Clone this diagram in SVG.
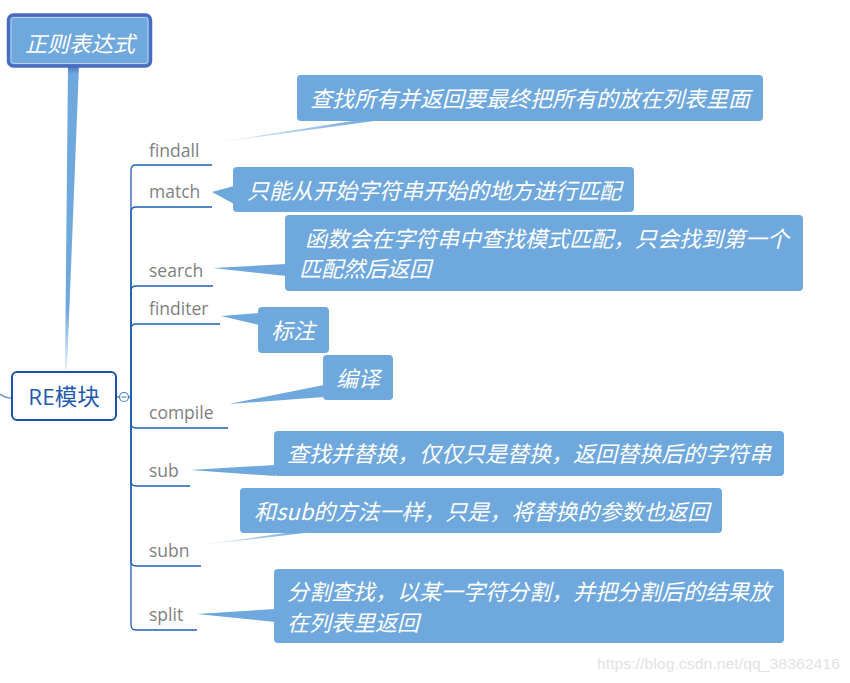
<svg xmlns="http://www.w3.org/2000/svg" width="850" height="683" viewBox="0 0 850 683">
<defs>
<style>
.co{font-family:"Noto Sans CJK SC","Noto Sans",sans-serif;font-size:22px;font-style:italic;fill:#ffffff}
.cb{fill:#6fa8dc}
.lb{font-family:"Open Sans","Liberation Sans",sans-serif;font-size:17.5px;fill:#7f7f7f}
.br{fill:none;stroke:#1f5fb5;stroke-width:1.3}
</style>
<linearGradient id="fade" x1="1" y1="0" x2="0" y2="0">
<stop offset="0" stop-color="#6fa8dc"/>
<stop offset="1" stop-color="#6fa8dc" stop-opacity="0.15"/>
</linearGradient>
<linearGradient id="stem" x1="0" y1="0" x2="0" y2="1">
<stop offset="0" stop-color="#4a6cc0"/>
<stop offset="0.03" stop-color="#6fa8dc"/>
<stop offset="0.8" stop-color="#6fa8dc"/>
<stop offset="1" stop-color="#6fa8dc" stop-opacity="0.2"/>
</linearGradient>
</defs>
<rect width="850" height="683" fill="#ffffff"/>

<g id="connectors">
<polygon points="68,65 79,65 67,369 65,369" fill="url(#stem)"/>
<path d="M0,394 Q6,398 12,398" fill="none" stroke="#6a8fc8" stroke-width="1.5"/>
<line x1="116" y1="397" x2="119.5" y2="397" stroke="#4a7cc0" stroke-width="1.3"/>
<line x1="128.5" y1="397" x2="131" y2="397" stroke="#4a7cc0" stroke-width="1.3"/>
<path class="br" d="M131,397 V170 Q131,165 136,165 H212"/>
<path class="br" d="M131,397 V212 Q131,207 136,207 H212"/>
<path class="br" d="M131,397 V291 Q131,286 136,286 H213"/>
<path class="br" d="M131,397 V329 Q131,324 136,324 H220"/>
<path class="br" d="M131,397 V423 Q131,428 136,428 H228"/>
<path class="br" d="M131,397 V481 Q131,486 136,486 H190"/>
<path class="br" d="M131,397 V561 Q131,566 136,566 H201"/>
<path class="br" d="M131,397 V625 Q131,630 136,630 H197"/>
<polygon points="213,143 374,121 352,121" fill="url(#fade)"/>
<polygon points="212,192 234,186 234,204" class="cb"/>
<polygon points="213,268 286,264 286,276" class="cb"/>
<polygon points="221,316 259,313 259,325" class="cb"/>
<polygon points="229,404 324,385 324,397" class="cb"/>
<polygon points="190,470 275,465 275,476" class="cb"/>
<polygon points="201,545 305,533 285,533" fill="url(#fade)"/>
<polygon points="197,614 275,609 275,622" class="cb"/>
</g>

<g id="root">
<rect x="8.5" y="15" width="142" height="51" rx="5" fill="#6fa8dc" stroke="#4a6cc0" stroke-width="3.5"/>
<rect x="11" y="17.5" width="137" height="46" rx="3" fill="none" stroke="#c8dcf2" stroke-width="0.8"/>
<text class="co" x="80" y="52" text-anchor="middle" font-size="22.5">正则表达式</text>
</g>

<g id="re">
<rect x="12" y="372" width="104" height="48" rx="5" fill="#ffffff" stroke="#1d4fa3" stroke-width="2"/>
<text x="64" y="405" text-anchor="middle" font-family="'Open Sans','Noto Sans CJK SC',sans-serif" font-size="22.5" fill="#1f5aae">RE<tspan font-family="'Noto Sans CJK SC',sans-serif">模块</tspan></text>
<circle cx="124" cy="397" r="4.5" fill="#ffffff" stroke="#4a7cc0" stroke-width="1.2"/>
<line x1="121.5" y1="397" x2="126.5" y2="397" stroke="#4a7cc0" stroke-width="1.1"/>
</g>

<g id="findall">
<text class="lb" x="149" y="157">findall</text>
<rect class="cb" x="297" y="75" width="466" height="46" rx="4"/>
<text class="co" x="310" y="107">查找所有并返回要最终把所有的放在列表里面</text>
</g>
<g id="match">
<text class="lb" x="149" y="198">match</text>
<rect class="cb" x="233" y="167" width="401" height="45" rx="4"/>
<text class="co" x="247" y="199">只能从开始字符串开始的地方进行匹配</text>
</g>
<g id="search">
<text class="lb" x="149" y="277">search</text>
<rect class="cb" x="285" y="215" width="518" height="76" rx="4"/>
<text class="co" x="305" y="247">函数会在字符串中查找模式匹配，只会找到第一个</text>
<text class="co" x="299" y="277">匹配然后返回</text>
</g>
<g id="finditer">
<text class="lb" x="149" y="315">finditer</text>
<rect class="cb" x="258" y="307" width="71" height="46" rx="4"/>
<text class="co" x="271" y="339">标注</text>
</g>
<g id="compile">
<text class="lb" x="149" y="419">compile</text>
<rect class="cb" x="323" y="355" width="70" height="45" rx="4"/>
<text class="co" x="336" y="387">编译</text>
</g>
<g id="sub">
<text class="lb" x="149" y="477">sub</text>
<rect class="cb" x="274" y="431" width="510" height="45" rx="4"/>
<text class="co" x="287" y="462">查找并替换，仅仅只是替换，返回替换后的字符串</text>
</g>
<g id="subn">
<text class="lb" x="149" y="557">subn</text>
<rect class="cb" x="240" y="488" width="482" height="45" rx="4"/>
<text class="co" x="254" y="520">和sub的方法一样，只是，将替换的参数也返回</text>
</g>
<g id="split">
<text class="lb" x="149" y="621">split</text>
<rect class="cb" x="274" y="569" width="510" height="74" rx="4"/>
<text class="co" x="287" y="600">分割查找，以某一字符分割，并把分割后的结果放</text>
<text class="co" x="287" y="631">在列表里返回</text>
</g>

<text x="597" y="669" font-family="'Liberation Sans',Arial,sans-serif" font-size="15.5" fill="#e2e2e2" textLength="243" lengthAdjust="spacingAndGlyphs">https://blog.csdn.net/qq_38362416</text>
</svg>
